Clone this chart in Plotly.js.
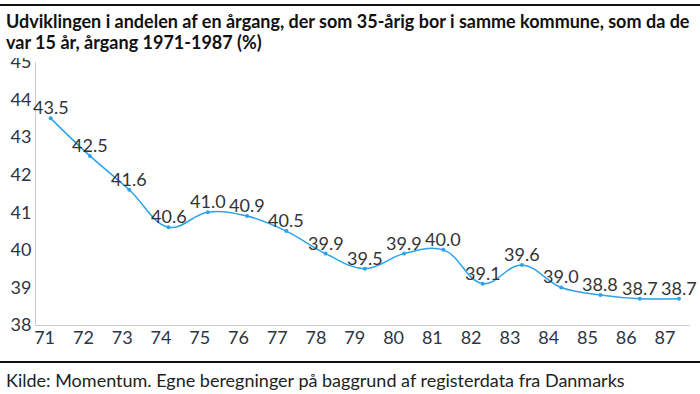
<!DOCTYPE html>
<html>
<head>
<meta charset="utf-8">
<script src="https://cdn.plot.ly/plotly-3.0.1.min.js"></script>
<style>html,body{margin:0;padding:0;background:#fff;}#chart{width:700px;height:394px;}</style>
</head>
<body>
<div id="chart"></div>
<script>
// Data
const cohortLabels = ["71","72","73","74","75","76","77","78","79","80","81","82","83","84","85","86","87"];
const cohortYears = [71,72,73,74,75,76,77,78,79,80,81,82,83,84,85,86,87];
const shareValues = [43.5,42.5,41.6,40.6,41.0,40.9,40.5,39.9,39.5,39.9,40.0,39.1,39.6,39.0,38.8,38.7,38.7];
const yTicks = [38,39,40,41,42,43,44,45];

const titleLines = [
  "Udviklingen i andelen af en årgang, der som 35-årig bor i samme kommune, som da de",
  "var 15 år, årgang 1971-1987 (%)"
];
const sourceText = "Kilde: Momentum. Egne beregninger på baggrund af registerdata fra Danmarks";

const W = 700, H = 394;
const L = 36, R = 10, T = 62, B = 69;
const pw = W - L - R, ph = H - T - B;
const px = v => (v - L) / pw;
const py = v => (H - B - v) / ph;

const idx = shareValues.map((_, i) => i);
const lineColor = "#2ba3ea";
const fontFam = "Lato, 'Open Sans', sans-serif";

const traces = [
  {
    x: idx, y: shareValues, xaxis: "x", yaxis: "y",
    type: "scatter", mode: "lines+markers",
    line: {color: lineColor, width: 1.5, shape: "spline", smoothing: 1.1},
    marker: {color: lineColor, size: 4},
    hoverinfo: "skip", showlegend: false, cliponaxis: false
  },
  {
    x: cohortYears, y: cohortYears.map(() => null), xaxis: "x2", yaxis: "y",
    type: "scatter", mode: "markers", marker: {opacity: 0},
    hoverinfo: "skip", showlegend: false
  }
];

const valueLabels = idx.map(i => ({
  x: i, y: shareValues[i], xref: "x", yref: "y",
  text: shareValues[i].toFixed(1), showarrow: false,
  xanchor: "center", yanchor: "middle", yshift: 11,
  font: {family: fontFam, size: 18, color: "#333333"}
}));

const titleAnns = titleLines.map((t, i) => ({
  text: "<b>" + t + "</b>", xref: "paper", yref: "paper", x: px(4), y: py(21 + 21 * i),
  xanchor: "left", yanchor: "middle", align: "left", showarrow: false,
  font: {family: fontFam, size: 18, color: "#111111"}
}));

const layout = {
  width: W, height: H,
  margin: {l: L, r: R, t: T, b: B, pad: 0},
  paper_bgcolor: "#ffffff", plot_bgcolor: "#ffffff",
  font: {family: fontFam, color: "#2b3544"},
  xaxis: {
    range: [-0.374, 16.28], showticklabels: false, showgrid: false, zeroline: false,
    showline: true, linecolor: "#cccccc", linewidth: 1, ticks: ""
  },
  xaxis2: {
    overlaying: "x", anchor: "y", side: "bottom",
    range: [70.778, 87.645], tickmode: "array", tickvals: cohortYears, ticktext: cohortLabels,
    showgrid: false, zeroline: false, showline: false, ticks: "",
    tickfont: {family: fontFam, size: 18, color: "#2b3544"}
  },
  yaxis: {
    range: [38, 45], tickmode: "array", tickvals: yTicks, ticktext: yTicks.map(String),
    showgrid: false, zeroline: false, showline: true, linecolor: "#cccccc", linewidth: 1,
    ticks: "", tickfont: {family: fontFam, size: 18, color: "#2b3544"}
  },
  shapes: [
    {type: "rect", layer: "above", xref: "paper", yref: "paper", x0: px(0), x1: px(35), y0: py(58), y1: py(0),
     line: {width: 0}, fillcolor: "#ffffff"},
    {type: "line", xref: "paper", yref: "paper", x0: px(0), x1: px(W), y0: py(5), y1: py(5),
     line: {color: "#111111", width: 2}},
    {type: "line", xref: "paper", yref: "paper", x0: px(0), x1: px(W), y0: py(362), y1: py(362),
     line: {color: "#111111", width: 2}}
  ],
  annotations: titleAnns.concat([
    {text: sourceText, xref: "paper", yref: "paper", x: px(4), y: py(380),
     xanchor: "left", yanchor: "middle", showarrow: false,
     font: {family: fontFam, size: 18, color: "#222222"}}
  ]).concat(valueLabels)
};

Plotly.newPlot("chart", traces, layout, {displayModeBar: false, staticPlot: true});
</script>
</body>
</html>
